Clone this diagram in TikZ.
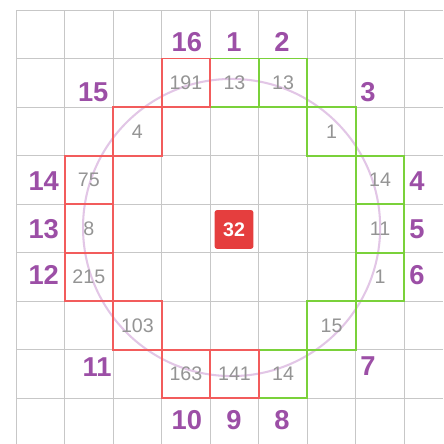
\documentclass[tikz,border=0pt]{standalone}
\usepackage{fontspec}
\setmainfont{Liberation Sans}
\usepackage{tikz}
\definecolor{plum}{HTML}{9C4FA6}
\definecolor{hitred}{HTML}{F25C5C}
\definecolor{hitgreen}{HTML}{7AD13A}
\definecolor{ring}{HTML}{E2C6E6}
\definecolor{midred}{HTML}{E53E3E}

\begin{document}
\begin{tikzpicture}[
  cell/.style={draw,line width=1.1pt,minimum size=1cm,inner sep=0pt,text=black!42,font=\fontsize{11.5}{13}\selectfont},
  redcell/.style={cell,draw=hitred},
  greencell/.style={cell,draw=hitgreen},
  idx/.style={plum,inner sep=0pt,font=\fontsize{16}{18}\selectfont\bfseries}]
  \useasboundingbox (-0.33,0.206) rectangle (8.795,-8.939);
  \fill[white] (-0.33,0.206) rectangle (8.795,-8.939);
  \draw[black!22,line width=0.6pt] (0,0) grid (8.795,-8.939);
  \draw[ring,line width=1.2pt] (4.44,-4.48) circle (3.06);
  % pixels on the ring
  \node[greencell] (p1) at (4.5,-1.5) {13};
  \node[greencell] (p2) at (5.5,-1.5) {13};
  \node[greencell] (p3) at (6.5,-2.5) {1};
  \node[greencell] (p4) at (7.5,-3.5) {14};
  \node[greencell] (p5) at (7.5,-4.5) {11};
  \node[greencell] (p6) at (7.5,-5.5) {1};
  \node[greencell] (p7) at (6.5,-6.5) {15};
  \node[greencell] (p8) at (5.5,-7.5) {14};
  \node[redcell] (p9) at (4.5,-7.5) {141};
  \node[redcell] (p10) at (3.5,-7.5) {163};
  \node[redcell] (p11) at (2.5,-6.5) {103};
  \node[redcell] (p12) at (1.5,-5.5) {215};
  \node[redcell] (p13) at (1.5,-4.5) {8};
  \node[redcell] (p14) at (1.5,-3.5) {75};
  \node[redcell] (p15) at (2.5,-2.5) {4};
  \node[redcell] (p16) at (3.5,-1.5) {191};
  % centre pixel
  \node[fill=midred,rounded corners=1.5pt,minimum size=0.8cm,inner sep=0pt,text=white,font=\fontsize{11.5}{13}\selectfont\bfseries] (mid) at (4.49,-4.52) {32};
  % indices
  \node[idx] (n1) at (4.49,-0.66) {1};
  \node[idx] (n2) at (5.48,-0.66) {2};
  \node[idx] (n3) at (7.25,-1.69) {3};
  \node[idx] (n4) at (8.26,-3.52) {4};
  \node[idx] (n5) at (8.26,-4.51) {5};
  \node[idx] (n6) at (8.26,-5.46) {6};
  \node[idx] (n7) at (7.25,-7.33) {7};
  \node[idx] (n8) at (5.48,-8.44) {8};
  \node[idx] (n9) at (4.49,-8.44) {9};
  \node[idx] (n10) at (3.52,-8.44) {10};
  \node[idx] (n11) at (1.67,-7.35) {11};
  \node[idx] (n12) at (0.57,-5.46) {12};
  \node[idx] (n13) at (0.57,-4.51) {13};
  \node[idx] (n14) at (0.57,-3.52) {14};
  \node[idx] (n15) at (1.59,-1.69) {15};
  \node[idx] (n16) at (3.52,-0.66) {16};
\end{tikzpicture}
\end{document}
